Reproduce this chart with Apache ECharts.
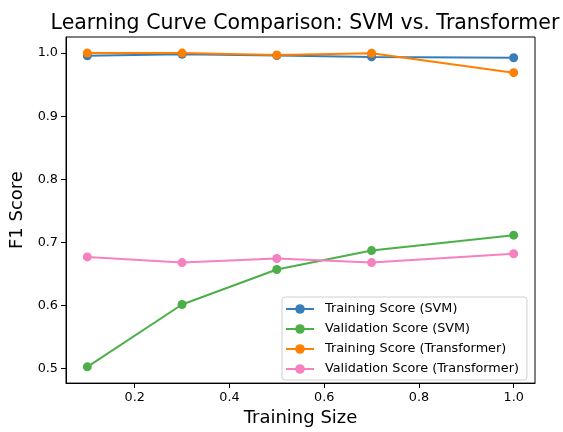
<!DOCTYPE html>
<html>
<head>
<meta charset="utf-8">
<script src="https://cdn.jsdelivr.net/npm/echarts@6/dist/echarts.min.js"></script>
<style>
  html, body { margin: 0; padding: 0; background: #fff; }
  #chart { width: 563px; height: 432px; }
</style>
</head>
<body>
<div id="chart"></div>
<script>
var trainSizes = [0.1, 0.3, 0.5, 0.7, 1.0];
var svmTrain = [0.9958, 0.998, 0.996, 0.994, 0.9927];
var svmVal = [0.5028, 0.6016, 0.657, 0.687, 0.7115];
var tfTrain = [1.0, 1.0, 0.997, 0.9997, 0.969];
var tfVal = [0.677, 0.668, 0.6745, 0.668, 0.682];
var xTicks = [0.2, 0.4, 0.6, 0.8, 1.0];
var yTicks = [0.5, 0.6, 0.7, 0.8, 0.9, 1.0];

var font = 'DejaVu Sans';

function pairs(ys) {
    return trainSizes.map(function (x, i) { return [x, ys[i]]; });
}

function lineSeries(name, ys, color) {
    return {
        name: name,
        type: 'line',
        data: pairs(ys),
        symbol: 'circle',
        symbolSize: 9,
        showSymbol: true,
        itemStyle: { color: color },
        lineStyle: { color: color, width: 2 },
        emphasis: { disabled: true },
        animation: false
    };
}

var myChart = echarts.init(document.getElementById('chart'));
var option = {
    backgroundColor: '#fff',
    title: {
        text: 'Learning Curve Comparison: SVM vs. Transformer',
        left: 300,
        top: 8,
        textAlign: 'center',
        textStyle: { fontFamily: font, fontSize: 20.5, fontWeight: 'normal', color: '#000' }
    },
    grid: {
        left: 65, right: 28, top: 37, bottom: 45,
        show: true, borderColor: '#000', borderWidth: 1, backgroundColor: 'transparent'
    },
    legend: {
        orient: 'vertical',
        left: 282,
        top: 297,
        width: 245,
        padding: [5, 8, 4, 3],
        itemGap: 6,
        itemWidth: 28,
        itemHeight: 12,
        backgroundColor: 'rgba(255,255,255,0.8)',
        borderColor: '#d0d0d0',
        borderWidth: 1,
        borderRadius: 3,
        textStyle: { fontFamily: font, fontSize: 12.8, lineHeight: 14, color: '#000', padding: [0, 0, 0, 6] },
        data: ['Training Score (SVM)', 'Validation Score (SVM)', 'Training Score (Transformer)', 'Validation Score (Transformer)']
    },
    xAxis: {
        type: 'value',
        min: 0.055,
        max: 1.045,
        name: 'Training Size',
        nameLocation: 'middle',
        nameGap: 24,
        nameTextStyle: { fontFamily: font, fontSize: 18, color: '#000' },
        splitLine: { show: false },
        axisLine: { show: true, onZero: false, lineStyle: { color: '#000', width: 1 } },
        axisTick: { show: true, length: 5, lineStyle: { color: '#000' }, customValues: xTicks },
        axisLabel: {
            fontFamily: font, fontSize: 12.8, color: '#000', margin: 8,
            customValues: xTicks,
            formatter: function (v) { return v.toFixed(1); }
        }
    },
    yAxis: {
        type: 'value',
        min: 0.477,
        max: 1.0255,
        name: 'F1 Score',
        nameLocation: 'middle',
        nameGap: 40,
        nameRotate: 90,
        nameTextStyle: { fontFamily: font, fontSize: 18, color: '#000' },
        splitLine: { show: false },
        axisLine: { show: true, onZero: false, lineStyle: { color: '#000', width: 1 } },
        axisTick: { show: true, length: 5, lineStyle: { color: '#000' }, customValues: yTicks },
        axisLabel: {
            fontFamily: font, fontSize: 12.8, color: '#000', margin: 8,
            customValues: yTicks,
            formatter: function (v) { return v.toFixed(1); }
        }
    },
    series: [
        lineSeries('Training Score (SVM)', svmTrain, '#377eb8'),
        lineSeries('Validation Score (SVM)', svmVal, '#4daf4a'),
        lineSeries('Training Score (Transformer)', tfTrain, '#ff7f00'),
        lineSeries('Validation Score (Transformer)', tfVal, '#f781bf')
    ]
};
myChart.setOption(option);
</script>
</body>
</html>
